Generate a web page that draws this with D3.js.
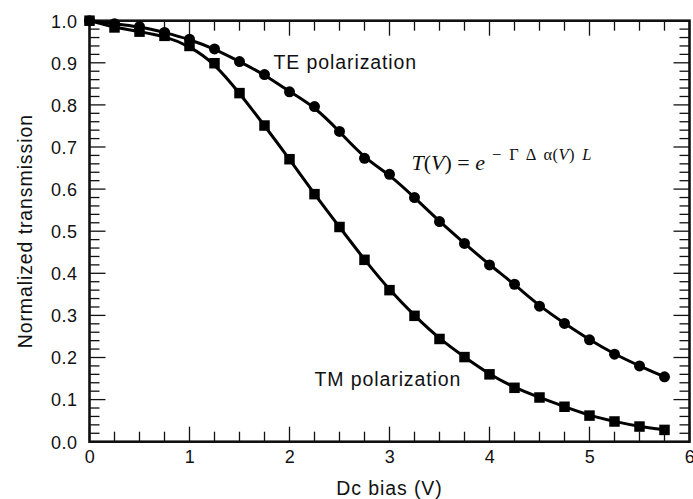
<!DOCTYPE html>
<html><head><meta charset="utf-8">
<script src="https://cdn.jsdelivr.net/npm/d3@7"></script>
<style>body{margin:0;background:#fff}svg{display:block}</style>
</head><body><svg id="c" width="693" height="499"></svg>
<script>
const biasV = [0,0.25,0.5,0.75,1,1.25,1.5,1.75,2,2.25,2.5,2.75,3,3.25,3.5,3.75,4,4.25,4.5,4.75,5,5.25,5.5,5.75];
const teValues = [1.0,0.993,0.986,0.972,0.956,0.933,0.903,0.872,0.831,0.796,0.737,0.673,0.635,0.580,0.523,0.471,0.420,0.374,0.322,0.281,0.242,0.208,0.180,0.154];
const tmValues = [1.0,0.984,0.974,0.964,0.940,0.899,0.828,0.751,0.671,0.588,0.510,0.432,0.360,0.299,0.244,0.201,0.160,0.128,0.105,0.083,0.062,0.048,0.036,0.028];
const xTicks = [0,1,2,3,4,5,6];
const yTicks = [0,0.1,0.2,0.3,0.4,0.5,0.6,0.7,0.8,0.9,1.0];
const labels = {x:"Dc bias (V)", y:"Normalized transmission", te:"TE polarization", tm:"TM polarization"};

const SANS = "'Liberation Sans', Arial, sans-serif";
const SERIF = "'Liberation Serif', 'Times New Roman', serif";
const svg = d3.select("#c");
const L=89.5, R=689.5, T=20.7, B=441.7;
const x = d3.scaleLinear().domain([0,6]).range([L,R]);
const y = d3.scaleLinear().domain([0,1]).range([B,T]);

// minor ticks
const xMinor = d3.range(0,6.001,0.25);
const yMinor = d3.range(0,1.0001,0.02);
const tk = svg.append("g").attr("stroke","#111").attr("stroke-width",1.3);
xMinor.forEach(v=>{
  const major = Math.abs(v-Math.round(v))<1e-6;
  const len = major?15:10;
  tk.append("line").attr("x1",x(v)).attr("x2",x(v)).attr("y1",B).attr("y2",B-len);
  tk.append("line").attr("x1",x(v)).attr("x2",x(v)).attr("y1",T).attr("y2",T+len);
});
yMinor.forEach(v=>{
  const major = Math.abs(v*10-Math.round(v*10))<1e-6;
  const len = major?16:10;
  tk.append("line").attr("y1",y(v)).attr("y2",y(v)).attr("x1",L).attr("x2",L+len);
  tk.append("line").attr("y1",y(v)).attr("y2",y(v)).attr("x1",R).attr("x2",R-len);
});

// axes labels via d3 axes (ticks hidden)
const xa = svg.append("g").attr("transform",`translate(0,${B})`)
  .call(d3.axisBottom(x).tickValues(xTicks).tickFormat(d3.format("d")).tickSize(0).tickPadding(9));
const ya = svg.append("g").attr("transform",`translate(${L},0)`)
  .call(d3.axisLeft(y).tickValues(yTicks).tickFormat(d3.format(".1f")).tickSize(0).tickPadding(12));
[xa,ya].forEach(a=>{a.select(".domain").remove(); a.selectAll("text").style("font-size","18px").style("fill","#111").style("font-family",SANS).style("letter-spacing","0.5px");});
xa.selectAll("text").attr("dy","0.71em");
ya.selectAll("text").attr("dy","0.35em");

// frame
svg.append("rect").attr("x",L).attr("y",T).attr("width",R-L).attr("height",B-T)
  .attr("fill","none").attr("stroke","#111").attr("stroke-width",2.6);

// curves
const line = d3.line().x((d,i)=>x(biasV[i])).y(d=>y(d)).curve(d3.curveBasis);
[teValues,tmValues].forEach(s=>{
  svg.append("path").attr("d",line(s)).attr("fill","none").attr("stroke","#000").attr("stroke-width",3);
});
svg.append("g").selectAll("circle").data(teValues).join("circle")
  .attr("cx",(d,i)=>x(biasV[i])).attr("cy",d=>y(d)).attr("r",5.5).attr("fill","#000");
const sq=10.5;
svg.append("g").selectAll("rect").data(tmValues).join("rect")
  .attr("x",(d,i)=>x(biasV[i])-sq/2).attr("y",d=>y(d)-sq/2).attr("width",sq).attr("height",sq).attr("fill","#000");

// text labels
function lab(xp,yp,txt,anchor,transform){
  const t = svg.append("text").attr("x",xp).attr("y",yp).attr("text-anchor",anchor||"start")
    .style("font-family",SANS).style("font-size","19.5px").style("letter-spacing","0.9px").style("fill","#111").text(txt);
  if(transform) t.attr("transform",transform);
  return t;
}
lab(x(1.84),y(0.886),labels.te);
lab(x(2.25),y(0.132),labels.tm);
lab((L+R)/2,495,labels.x,"middle");
lab(0,0,labels.y,"middle",`translate(32,${(T+B)/2}) rotate(-90)`);

// formula
const f = svg.append("text").attr("x",x(3.22)).attr("y",y(0.645))
  .style("font-family",SERIF).style("font-size","22px").style("fill","#111");
f.append("tspan").style("font-style","italic").text("T");
f.append("tspan").text("(");
f.append("tspan").style("font-style","italic").text("V");
f.append("tspan").text(") = ");
f.append("tspan").style("font-style","italic").text("e");
const sup = {"font-size":"16.5px","word-spacing":"3px","letter-spacing":"0.4px"};
const sp = (txt,it,dy,dx)=>{const t=f.append("tspan").text(txt); Object.entries(sup).forEach(([k,v])=>t.style(k,v)); if(it)t.style("font-style","italic"); if(dy)t.attr("dy",dy); if(dx)t.attr("dx",dx); return t;};
sp("\u2212 \u0393 \u0394 \u03B1(",false,-10,7);
sp("V",true);
sp(") ",false);
sp("L",true);
</script></body></html>
